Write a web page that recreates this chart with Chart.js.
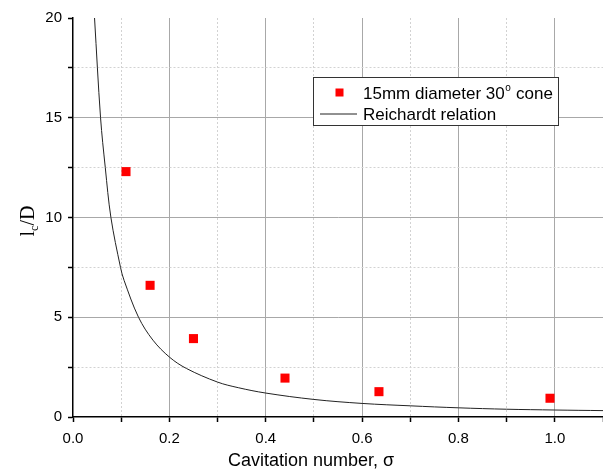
<!DOCTYPE html>
<html>
<head>
    <title>Cavitation length</title>
    <style>
        body { margin: 0; background: #fff; }
    </style>
</head>
<body>
    <canvas id="cav" width="603" height="472"></canvas>

    <script src="https://cdn.jsdelivr.net/npm/chart.js@4.4.0/dist/chart.umd.min.js"></script>
    <script>
        // measured cavity lengths
        const sigmaMeasured = [0.11, 0.16, 0.25, 0.44, 0.635, 0.99];
        const lengthMeasured = [12.3, 6.6, 3.93, 1.95, 1.27, 0.94];

        // Reichardt curve
        const sigmaReichardt = [0.0447, 0.0572, 0.067, 0.0787, 0.0986, 0.106, 0.136, 0.166, 0.2008, 0.2356,
                                0.30, 0.343, 0.40, 0.50, 0.60, 0.70, 0.80, 0.90, 1.00, 1.10];
        const lengthReichardt = [20, 15, 12.5, 10, 7.5, 6.85, 5, 3.85, 2.99, 2.43,
                                 1.75, 1.47, 1.2, 0.88, 0.68, 0.56, 0.46, 0.39, 0.35, 0.32];

        const xTicks = [0.0, 0.2, 0.4, 0.6, 0.8, 1.0];
        const yTicks = [0, 5, 10, 15, 20];

        const xTitle = 'Cavitation number, \u03c3';
        const seriesNames = ['15mm diameter 30', 'Reichardt relation'];

        const SANS = '"Liberation Sans", Arial, sans-serif';
        const SERIF = '"Liberation Serif", "Times New Roman", serif';

        function isMajor(v, list) {
            return list.some(t => Math.abs(t - v) < 1e-6);
        }

        function gridColour(list) {
            return ctx => {
                const v = ctx.tick.value;
                if (Math.abs(v) < 1e-6 || Math.abs(v - list[list.length - 1]) < 1e-6) return 'rgba(0,0,0,0)';
                return isMajor(v, list) ? '#a8a8a8' : '#d2d2d2';
            };
        }

        const extras = {
            id: 'extras',
            afterDraw(chart) {
                const ctx = chart.ctx;
                ctx.save();
                ctx.fillStyle = '#000';

                // y title l_c/D
                ctx.translate(34, 221);
                ctx.rotate(-Math.PI / 2);
                ctx.textBaseline = 'alphabetic';
                ctx.font = '20px ' + SERIF;
                const wl = ctx.measureText('l').width;
                const wd = ctx.measureText('/D').width;
                ctx.font = '12px ' + SERIF;
                const wc = ctx.measureText('c').width;
                let x0 = -(wl + wc + wd) / 2;
                ctx.font = '20px ' + SERIF;
                ctx.fillText('l', x0, 0);
                ctx.font = '12px ' + SERIF;
                ctx.fillText('c', x0 + wl, 4);
                ctx.font = '20px ' + SERIF;
                ctx.fillText('/D', x0 + wl + wc, 0);
                ctx.restore();

                // x title
                ctx.save();
                ctx.fillStyle = '#000';
                ctx.font = '18px ' + SANS;
                ctx.textAlign = 'center';
                ctx.textBaseline = 'alphabetic';
                ctx.fillText(xTitle, 311, 466);
                ctx.restore();

                // legend box
                ctx.save();
                ctx.strokeStyle = '#333';
                ctx.lineWidth = 1;
                ctx.fillStyle = '#fff';
                ctx.fillRect(313, 77.5, 245, 48);
                ctx.strokeRect(313.5, 77.5, 245, 48);

                ctx.fillStyle = '#ff0000';
                ctx.fillRect(335.5, 88.5, 8, 8);
                ctx.strokeStyle = '#222';
                ctx.beginPath();
                ctx.moveTo(320, 114);
                ctx.lineTo(357, 114);
                ctx.stroke();

                ctx.fillStyle = '#000';
                ctx.textBaseline = 'alphabetic';
                ctx.font = '17px ' + SANS;
                ctx.fillText(seriesNames[0], 363, 99);
                let w = ctx.measureText(seriesNames[0]).width;
                ctx.font = '10px ' + SANS;
                ctx.fillText('o', 363 + w + 0.5, 91);
                let w2 = ctx.measureText('o').width;
                ctx.font = '17px ' + SANS;
                ctx.fillText(' cone', 363 + w + w2 + 1, 99);
                ctx.fillText(seriesNames[1], 363, 119.5);
                ctx.restore();
            }
        };

        const context = document.getElementById('cav').getContext('2d');

        const cav = new Chart(context, {
            type: 'scatter',
            data: {
                datasets: [
                    {
                        label: seriesNames[1],
                        type: 'line',
                        data: sigmaReichardt.map((s, i) => ({x: s, y: lengthReichardt[i]})),
                        borderColor: '#222',
                        borderWidth: 1,
                        pointRadius: 0,
                        tension: 0.35,
                        fill: false,
                        order: 2
                    },
                    {
                        label: seriesNames[0] + '\u00b0 cone',
                        data: sigmaMeasured.map((s, i) => ({x: s, y: lengthMeasured[i]})),
                        backgroundColor: '#ff0000',
                        borderWidth: 0,
                        pointStyle: 'rect',
                        pointRadius: 6.4,
                        order: 1
                    }
                ]
            },
            options: {
                responsive: false,
                animation: false,
                layout: { autoPadding: false, padding: { top: 18, right: 0, left: 0, bottom: 0 } },
                plugins: {
                    legend: { display: false },
                    tooltip: { enabled: false }
                },
                scales: {
                    x: {
                        type: 'linear',
                        min: 0,
                        max: 1.1,
                        afterFit: s => {
                            s.height = 55;
                            s.paddingLeft = 0;
                            s.paddingRight = 0;
                        },
                        ticks: {
                            stepSize: 0.1,
                            maxRotation: 0,
                            autoSkip: false,
                            padding: 8,
                            color: '#000',
                            font: { size: 15, family: SANS },
                            callback: v => isMajor(v, xTicks) ? v.toFixed(1) : ''
                        },
                        grid: {
                            color: gridColour(xTicks.concat([1.1])),
                            lineWidth: 1,
                            tickColor: '#000',
                            tickLength: 5,
                            tickWidth: 1.5
                        },
                        border: {
                            color: '#000',
                            width: 1.5,
                            dash: ctx => isMajor(ctx.tick ? ctx.tick.value : 0, xTicks) ? [] : [2, 2]
                        }
                    },
                    y: {
                        min: 0,
                        max: 20,
                        afterFit: s => { s.width = 73; },
                        ticks: {
                            stepSize: 2.5,
                            autoSkip: false,
                            padding: 6,
                            color: '#000',
                            font: { size: 15, family: SANS },
                            callback: v => isMajor(v, yTicks) ? String(v) : ''
                        },
                        grid: {
                            color: gridColour(yTicks),
                            lineWidth: 1,
                            tickColor: '#000',
                            tickLength: 5,
                            tickWidth: 1.5
                        },
                        border: {
                            color: '#000',
                            width: 1.5,
                            dash: ctx => isMajor(ctx.tick ? ctx.tick.value : 0, yTicks) ? [] : [2, 2]
                        }
                    }
                }
            },
            plugins: [extras]
        });
    </script>
</body>
</html>
